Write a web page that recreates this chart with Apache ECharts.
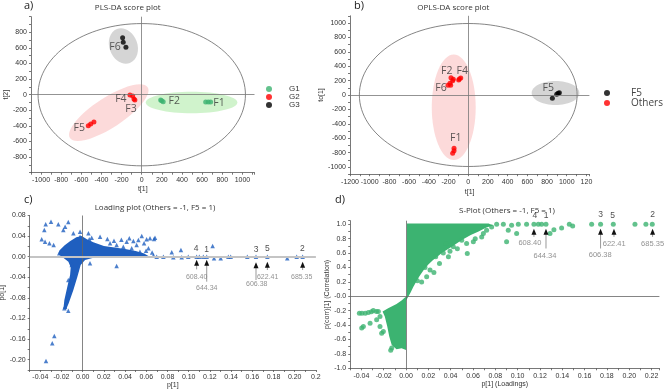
<!DOCTYPE html>
<html>
<head>
<meta charset="utf-8" />
<style>
html, body { margin: 0; padding: 0; background: #fff; }
#chart { width: 669px; height: 391px; }
</style>
<script src="https://cdn.jsdelivr.net/npm/echarts@6/dist/echarts.min.js"></script>
</head>
<body>
<div id="chart"></div>
<script>
// ---- a) PLS-DA score plot ----
const aG1 = [[188,-68],[213,-90],[198,-77],[635,-94],[660,-94],[684,-94]];
const aG2 = [[-117,-4],[-90,-17],[-77,-55],[-68,-68],[-531,-397],[-507,-376],[-475,-350]];
const aG3 = [[-190,731],[-184,672],[-157,608]];
const aText = [[-266,615,'F6'],[-207,-59,'F4'],[-107,-179,'F3'],[-621,-423,'F5'],[323,-85,'F2'],[767,-103,'F1']];
const aHotelling = [[0,0,1030,912]];
// centre x, centre y, end of long axis x, y, half width (x units)
const aShade = [[495,-100,950,-100,107],[-327,-230,59,95,149],[-182,624,-246,842,139]];
const aXTicks = [-1000,-800,-600,-400,-200,0,200,400,600,800,1000];
const aYTicks = [-800,-600,-400,-200,0,200,400,600,800];

// ---- b) OPLS-DA score plot ----
const bOthers = [[-175,241],[-158,199],[-185,162],[-205,134],[-178,134],[-151,218],
  [-97,208],[-76,236],[-90,222],[-144,-741],[-158,-810],[-144,-773]];
const bF5 = [[854,-46],[898,10],[925,32],[912,24]];
const bText = [[-218,333,'F2'],[-60,333,'F4'],[-276,93,'F6'],[-127,-593,'F1'],[813,93,'F5']];
const bHotelling = [[0,0,1105,993]];
const bShade = [[-147,-170,-147,564,223],[886,28,1128,28,122]];
const bXTicks = [-1200,-1000,-800,-600,-400,-200,0,200,400,600,800,1000,1200];
const bXLabels = ['-1200','-1000','-800','-600','-400','-200','0','200','400','600','800','1000','120'];
const bYTicks = [-1000,-800,-600,-400,-200,0,200,400,600,800,1000];

// ---- c) Loading plot ----
const cDense = [[-0.022,0.012],[-0.017,0.022],[-0.012,0.03],[-0.006,0.038],[-0.001,0.04],
  [0.004,0.034],[0.01,0.028],[0.02,0.021],[0.03,0.018],[0.04,0.015],[0.05,0.011],[0.058,0.006],
  [0.062,0.0015],[0.0541,0.0008],[0.0384,0.0015],[0.0226,0.0002],[0.0101,-0.0022],[0.0022,-0.0064],
  [-0.0019,-0.0161],[-0.005,-0.0389],[-0.0088,-0.0648],[-0.0132,-0.0906],[-0.0157,-0.1023],
  [-0.0182,-0.101],[-0.0173,-0.0842],[-0.0145,-0.0583],[-0.0119,-0.0356],[-0.0113,-0.0207],
  [-0.0135,-0.0096],[-0.0189,-0.0012],[-0.023,0.005]];
const cPoints = [[-0.0299,0.068],[-0.0349,0.063],[-0.0362,0.052],[-0.023,0.063],[-0.0136,0.0674],
  [-0.0387,0.0338],[-0.0355,0.029],[-0.0314,0.026],[-0.0274,0.0227],[-0.0183,0.0518],[-0.0166,0.058],
  [-0.0088,0.0453],[-0.0025,0.0485],[-0.0025,0.0388],[-0.0221,0.0066],[0.0062,0.0338],[0.0054,0.0453],
  [0.0085,0.0369],[0.0164,0.0388],[0.0233,0.0343],[0.032,-0.018],[0.0069,-0.0129],[-0.0104,-0.016],
  [-0.0136,-0.045],[-0.0167,-0.097],[-0.0136,-0.105],[-0.0173,-0.1003],
  [-0.0268,-0.154],[-0.0287,-0.168],[-0.0346,-0.2025],
  [0.0415,0.0291],[0.0478,0.0304],[0.0525,0.0324],[0.0557,0.0401],[0.0603,0.0337],[0.0635,0.0356],
  [0.0673,0.0343],[0.0682,0.0369],[0.0579,0.0259],[0.0509,0.0227],[0.0462,0.0162],[0.0383,0.0194],
  [0.032,0.0227],[0.0258,0.0259],[0.062,0.0162],[0.054,0.0097],[0.0295,0.031],[0.044,0.036],[0.0365,0.033],
  [0.0655,0.008],[0.0598,0.0115],[0.0668,0.0025],
  [0.0698,0],[0.0761,0],[0.084,0.0085],[0.0855,-0.001],[0.0927,0.013],[0.0934,-0.001],[0.0996,0],
  [0.1075,0],[0.11,0],[0.1138,0],[0.117,0],[0.1226,0.021],[0.1239,-0.003],[0.1302,-0.003],
  [0.1374,0],[0.1396,0],[0.1553,0],[0.1635,0],[0.1742,0],[0.193,-0.003],[0.2019,0],[0.2075,0]];
const cNumbers = [[0.1069,0.0163,'4'],[0.117,0.0143,'1'],[0.1635,0.013,'3'],[0.1742,0.015,'5'],[0.2072,0.0163,'2']];
const cMasses = [[0.1075,-0.0401,'608.40'],[0.117,-0.0615,'644.34'],[0.1642,-0.0537,'606.38'],
  [0.1745,-0.0388,'622.41'],[0.2066,-0.0388,'685.35']];
// x, arrow tip y, line end y
const cArrows = [[0.1075,-0.0077,-0.0246],[0.117,-0.0077,-0.0485],[0.1635,-0.0129,-0.0453],
  [0.1742,-0.0116,-0.0259],[0.2075,-0.0116,-0.0259]];
const cXTicks = [-0.04,-0.02,0,0.02,0.04,0.06,0.08,0.1,0.12,0.14,0.16,0.18,0.2,0.22];
const cXLabels = ['-0.04','-0.02','0.00','0.02','0.04','0.06','0.08','0.10','0.12','0.14','0.16','0.18','0.20','0.2'];
const cYTicks = [-0.2,-0.16,-0.12,-0.08,-0.04,0,0.04,0.08];
const cYLabels = ['-0.20','-0.16','-0.12','-0.08','-0.04','0.00','0.04','0.08'];

// ---- d) S-plot ----
const dDense = [[0.0009,1.012],[0.074,1.012],[0.078,0.985],[0.072,0.955],[0.065,0.9],
  [0.058,0.85],[0.052,0.8],[0.047,0.75],[0.042,0.7],[0.037,0.65],[0.032,0.6],[0.028,0.55],
  [0.024,0.5],[0.02,0.44],[0.016,0.37],[0.012,0.28],[0.009,0.2],[0.0065,0.13],[0.004,0.05],
  [0.0015,-0.02],[0.0,-0.06],[0.0,-0.745],[-0.004,-0.72],
  [-0.0085,-0.735],[-0.0128,-0.675],[-0.015,-0.56],[-0.0168,-0.42],[-0.019,-0.28],[-0.021,-0.212],
  [-0.016,-0.166],[-0.0085,-0.106],[-0.004,-0.06],[-0.001,-0.015],[0.0009,0]];
const dPoints = [[0.0185,0.272],[0.017,0.4],[0.0215,0.364],[0.03,0.456],[0.0266,0.55],[0.0334,0.6],
  [0.0394,0.627],[0.0424,0.687],[0.0358,0.733],[0.0499,0.779],[0.0543,0.733],[0.0549,0.594],
  [0.0603,0.756],[0.0678,0.825],[0.0693,0.871],[0.0722,0.917],[0.0767,0.963],[0.0812,1.0],
  [0.0872,1.0],[0.0901,0.756],[0.0916,0.917],[0.0946,0.986],[0.0991,0.871],[0.1006,1.0],[0.108,1.0],
  [0.1146,1.0],[0.1185,1.0],[0.1215,1.0],[0.1254,1.0],[0.129,0.871],[0.1325,0.926],[0.1394,0.949],
  [0.1463,1.0],[0.1493,0.977],[0.1663,1.0],[0.1743,1.0],[0.1857,1.0],[0.2051,1.0],[0.2149,1.0],[0.2206,1.0],
  [0.0101,0.217],[0.014,0.2],[0.046,0.66],[0.038,0.55],[0.062,0.8],[0.025,0.33],
  [-0.0418,-0.235],[-0.0395,-0.235],[-0.0365,-0.235],[-0.0337,-0.226],[-0.031,-0.215],[-0.0293,-0.198],
  [-0.0265,-0.21],[-0.0248,-0.212],[-0.0382,-0.419],[-0.0397,-0.442],[-0.0322,-0.373],[-0.0263,-0.327],
  [-0.0233,-0.419],[-0.0218,-0.512],[-0.0203,-0.488],[-0.0233,-0.281],[-0.0128,-0.719],[-0.0137,-0.751]];
const dNumbers = [[0.1155,1.124,'4'],[0.1254,1.124,'1'],[0.1743,1.134,'3'],[0.1851,1.124,'5'],[0.2209,1.134,'2']];
const dMasses = [[0.111,0.742,'608.40'],[0.1245,0.558,'644.34'],[0.174,0.571,'606.38'],
  [0.1865,0.733,'622.41'],[0.2209,0.733,'685.35']];
const dArrows = [[0.1146,0.926,0.825],[0.1254,0.926,0.664],[0.1743,0.926,0.664],
  [0.1863,0.926,0.825],[0.2209,0.926,0.825]];
const dXTicks = [-0.04,-0.02,0,0.02,0.04,0.06,0.08,0.1,0.12,0.14,0.16,0.18,0.2,0.22];
const dXLabels = ['-0.04','-0.02','0.00','0.02','0.04','0.06','0.08','0.10','0.12','0.14','0.16','0.18','0.20','0.22'];
const dYTicks = [-1,-0.8,-0.6,-0.4,-0.2,0,0.2,0.4,0.6,0.8,1];
const dYLabels = ['-1.0','-0.8','-0.6','-0.4','-0.2','-0.0','0.2','0.4','0.6','0.8','1.0'];

const FONT = '"Liberation Sans", Arial, sans-serif';
const FONT2 = '"Open Sans", "Noto Sans", sans-serif';

const fmt = (ticks, labels) => v => {
  const i = ticks.findIndex(t => Math.abs(t - v) < 1e-7);
  return i < 0 ? '' : (labels ? labels[i] : String(ticks[i]));
};

const axis = (gi, min, max, interval, formatter, name, nameGap, isY) => ({
  type: 'value', gridIndex: gi, min, max, interval,
  name, nameLocation: 'middle', nameGap, nameRotate: isY ? 90 : 0,
  nameTextStyle: { fontSize: 7, color: '#333', fontFamily: FONT },
  axisLine: { show: true, onZero: false, lineStyle: { color: '#555', width: 0.8 } },
  axisTick: { show: true, length: 2, lineStyle: { color: '#555', width: 0.8 } },
  axisLabel: { fontSize: 7, color: '#333', fontFamily: FONT, margin: 4, formatter },
  splitLine: { show: false }
});

const hotelling = (xi) => ({
  type: 'custom', xAxisIndex: xi, yAxisIndex: xi, z: 1, silent: true,
  data: xi === 0 ? aHotelling : bHotelling,
  renderItem: (p, api) => {
    const c = api.coord([api.value(0), api.value(1)]);
    const s = api.size([api.value(2), api.value(3)]);
    return { type: 'ellipse', shape: { cx: c[0], cy: c[1], rx: s[0], ry: s[1] },
      style: { fill: 'none', stroke: '#666', lineWidth: 0.8 } };
  }
});

const shade = (xi, data, colors) => ({
  type: 'custom', xAxisIndex: xi, yAxisIndex: xi, z: 2, silent: true, data,
  renderItem: (p, api) => {
    const c = api.coord([api.value(0), api.value(1)]);
    const e = api.coord([api.value(2), api.value(3)]);
    const w = api.size([api.value(4), 0])[0];
    const dx = e[0] - c[0], dy = e[1] - c[1];
    return { type: 'ellipse', x: c[0], y: c[1], rotation: Math.atan2(-dy, dx),
      shape: { cx: 0, cy: 0, rx: Math.hypot(dx, dy), ry: w },
      style: { fill: colors[p.dataIndex] } };
  }
});

const dense = (xi, outline, color) => ({
  type: 'custom', xAxisIndex: xi, yAxisIndex: xi, z: 2, silent: true, data: outline,
  renderItem: (p, api) => p.dataIndex !== 0 ? null : {
    type: 'polygon', shape: { points: outline.map(q => api.coord(q)) }, style: { fill: color }
  }
});

const arrows = (xi, data) => ({
  type: 'custom', xAxisIndex: xi, yAxisIndex: xi, z: 5, silent: true, data,
  renderItem: (p, api) => {
    const t = api.coord([api.value(0), api.value(1)]);
    const b = api.coord([api.value(0), api.value(2)]);
    return { type: 'group', children: [
      { type: 'line', shape: { x1: t[0], y1: t[1] + 4, x2: b[0], y2: b[1] }, style: { stroke: '#999', lineWidth: 1 } },
      { type: 'polygon', shape: { points: [[t[0], t[1] - 1], [t[0] - 2.5, t[1] + 5], [t[0] + 2.5, t[1] + 5]] }, style: { fill: '#111' } }
    ] };
  }
});

const texts = (xi, data, size, color) => ({
  type: 'scatter', xAxisIndex: xi, yAxisIndex: xi, z: 6, silent: true, clip: false,
  symbolSize: 1, itemStyle: { color: 'rgba(0,0,0,0)' }, data,
  label: { show: true, position: 'inside', formatter: q => q.value[2],
    fontSize: size, color, fontFamily: size > 9 ? FONT2 : FONT }
});

const dots = (xi, name, data, color, symbol, size, extra) => Object.assign({
  type: 'scatter', xAxisIndex: xi, yAxisIndex: xi, z: 4, name, data,
  symbol, symbolSize: size, itemStyle: { color }
}, extra || {});

const cross = (c1, w1, c2, w2) => ({
  silent: true, symbol: 'none', label: { show: false }, animation: false,
  data: [
    { xAxis: 0, lineStyle: { color: c1, width: w1, type: 'solid' } },
    { yAxis: 0, lineStyle: { color: c2, width: w2, type: 'solid' } }
  ]
});

const chart = echarts.init(document.getElementById('chart'));
chart.setOption({
  animation: false,
  backgroundColor: '#fff',
  title: [
    { text: 'PLS-DA score plot', left: 127.7, top: 4, textAlign: 'center', padding: 0 },
    { text: 'OPLS-DA score plot', left: 453.3, top: 4, textAlign: 'center', padding: 0 },
    { text: 'Loading plot (Others = -1, F5 = 1)', left: 155, top: 203.5, textAlign: 'center', padding: 0 },
    { text: 'S-Plot (Others = -1, F5 = 1)', left: 507, top: 207, textAlign: 'center', padding: 0 }
  ].map(t => Object.assign(t, { textStyle: { fontSize: 8, fontWeight: 'normal', color: '#333', fontFamily: FONT2 } })),
  graphic: [
    { type: 'text', left: 24, top: 0, style: { text: 'a)', fill: '#222', font: '11px ' + FONT2 } },
    { type: 'text', left: 354, top: 0, style: { text: 'b)', fill: '#222', font: '11px ' + FONT2 } },
    { type: 'text', left: 24, top: 194, style: { text: 'c)', fill: '#222', font: '11px ' + FONT2 } },
    { type: 'text', left: 335, top: 194, style: { text: 'd)', fill: '#222', font: '11px ' + FONT2 } }
  ],
  legend: [
    { data: ['G1', 'G2', 'G3'], orient: 'vertical', left: 266, top: 85, padding: 0, itemGap: 0,
      itemWidth: 6, itemHeight: 6, icon: 'circle',
      textStyle: { fontSize: 8, lineHeight: 8, color: '#333', fontFamily: FONT, padding: [0, 0, 0, 12] } },
    { data: ['F5', 'Others'], orient: 'vertical', left: 604, top: 88, padding: 0, itemGap: 0,
      itemWidth: 6, itemHeight: 6, icon: 'circle',
      textStyle: { fontSize: 10, lineHeight: 10, color: '#444', fontFamily: FONT2, padding: [0, 0, 0, 16] } }
  ],
  grid: [
    { left: 31, top: 16.7, width: 223.5, height: 156, outerBoundsMode: 'none' },
    { left: 350, top: 15.8, width: 239.4, height: 158.4, outerBoundsMode: 'none' },
    { left: 29.7, top: 215.5, width: 286.2, height: 154.5, outerBoundsMode: 'none' },
    { left: 350.2, top: 220.7, width: 309.2, height: 147.6, outerBoundsMode: 'none' }
  ],
  xAxis: [
    axis(0, -1100, 1120, 100, fmt(aXTicks), 't[1]', 13, false),
    axis(1, -1200, 1230, 100, fmt(bXTicks, bXLabels), 't[1]', 14, false),
    axis(2, -0.05, 0.22, 0.01, fmt(cXTicks, cXLabels), 'p[1]', 12, false),
    axis(3, -0.05, 0.227, 0.01, fmt(dXTicks, dXLabels), 'p[1] (Loadings)', 12, false)
  ],
  yAxis: [
    axis(0, -1000, 1000, 100, fmt(aYTicks), 't[2]', 16, true),
    axis(1, -1100, 1100, 100, fmt(bYTicks), 'to[1]', 22, true),
    axis(2, -0.22, 0.08, 0.02, fmt(cYTicks, cYLabels), 'po[1]', 19, true),
    axis(3, -1, 1.05, 0.1, fmt(dYTicks, dYLabels), 'p(corr)[1] (Correlation)', 13, true)
  ],
  series: [
    hotelling(0),
    shade(0, aShade, ['rgba(120,220,110,0.35)', 'rgba(245,150,150,0.35)', 'rgba(150,150,150,0.4)']),
    dots(0, 'G1', aG1, '#3cb371', 'circle', 5, { markLine: cross('#777', 0.8, '#777', 0.8) }),
    dots(0, 'G2', aG2, '#ff0000', 'circle', 5),
    dots(0, 'G3', aG3, '#000000', 'circle', 5),
    texts(0, aText, 10.5, '#333'),

    hotelling(1),
    shade(1, bShade, ['rgba(245,150,150,0.35)', 'rgba(150,150,150,0.4)']),
    dots(1, 'F5', bF5, '#000000', 'circle', 5, { markLine: cross('#777', 0.8, '#777', 0.8) }),
    dots(1, 'Others', bOthers, '#ff0000', 'circle', 5),
    texts(1, bText, 10.5, '#333'),

    dense(2, cDense, '#1f5fbf'),
    dots(2, 'c', cPoints, '#1f5fbf', 'triangle', 4.5, { markLine: cross('#666', 0.8, '#c4c4c4', 2) }),
    arrows(2, cArrows),
    texts(2, cNumbers, 8.5, '#222'),
    texts(2, cMasses, 7, '#777'),

    dense(3, dDense, '#3cb371'),
    dots(3, 'd', dPoints, '#3cb371', 'circle', 5, { markLine: cross('#666', 0.8, '#666', 0.8) }),
    arrows(3, dArrows),
    texts(3, dNumbers, 8.5, '#222'),
    texts(3, dMasses, 7.5, '#777')
  ]
});
</script>
</body>
</html>
